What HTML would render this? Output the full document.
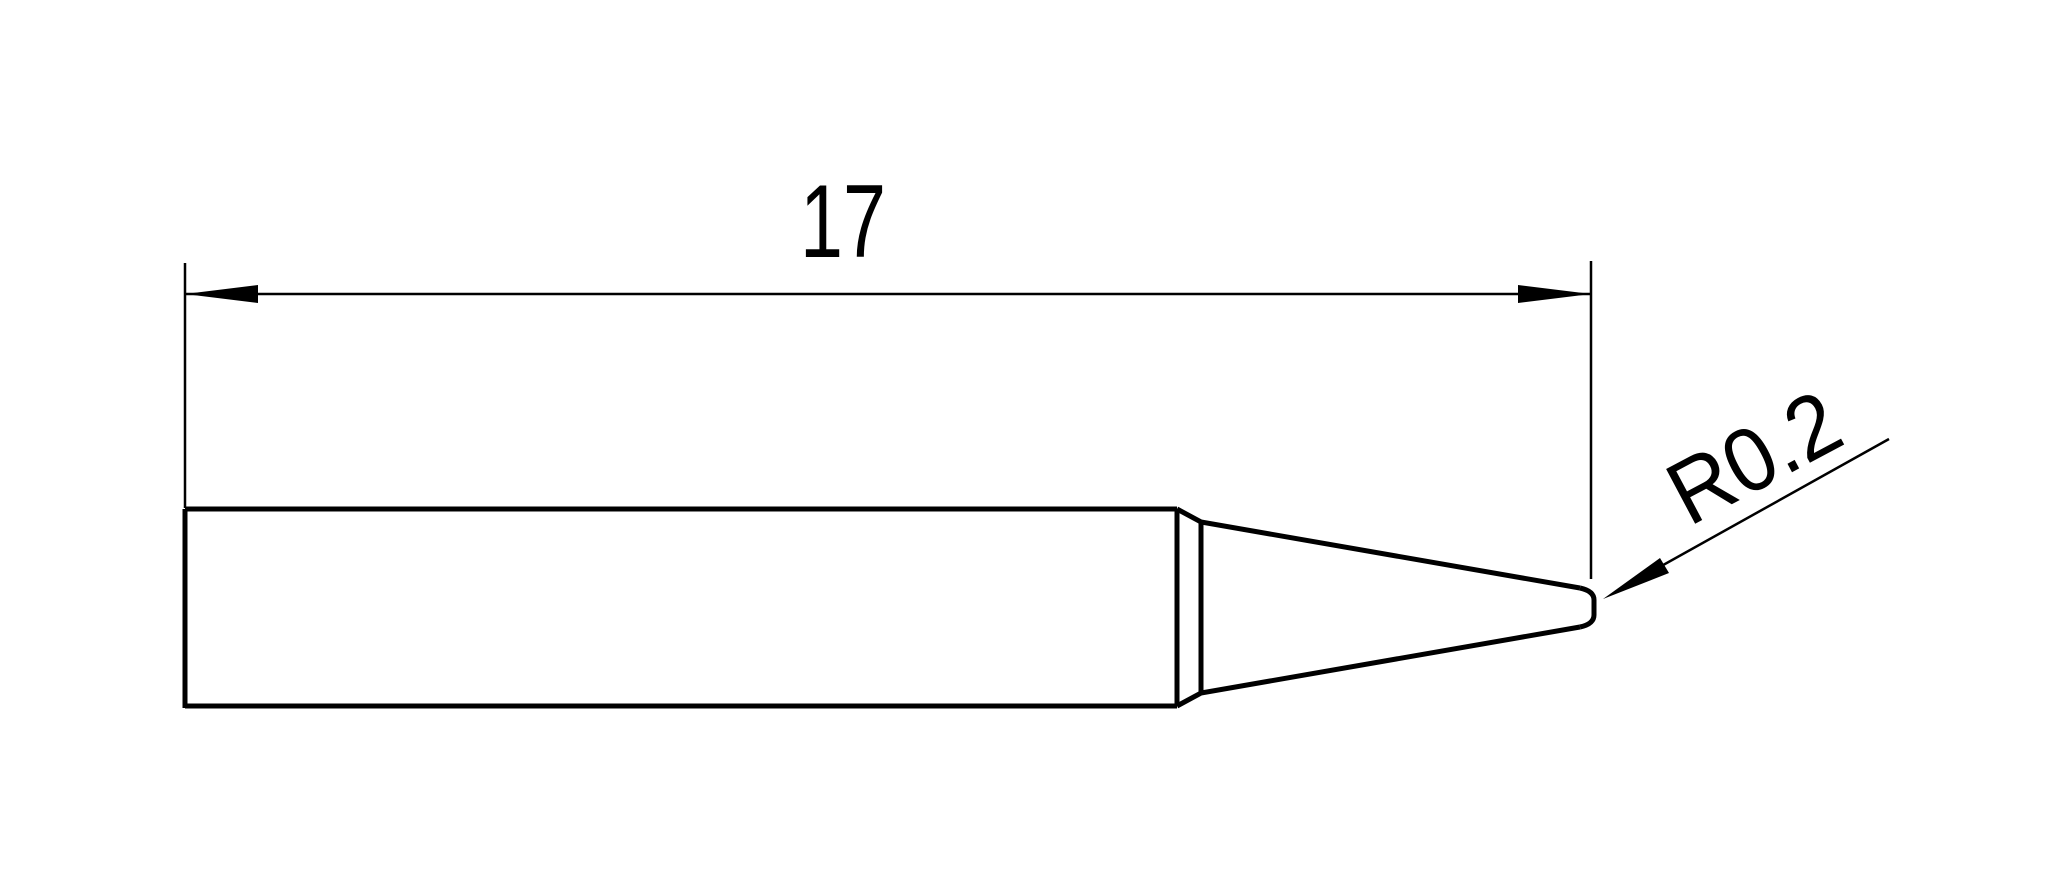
<!DOCTYPE html>
<html><head><meta charset="utf-8"><style>html,body{margin:0;padding:0;background:#fff;width:2050px;height:884px;overflow:hidden}</style></head>
<body>
<svg width="2050" height="884" viewBox="0 0 2050 884" xmlns="http://www.w3.org/2000/svg">
<g stroke="#000" fill="none" stroke-width="2.5">
<line x1="185" y1="263" x2="185" y2="508"/>
<line x1="1591" y1="261" x2="1591" y2="579"/>
<line x1="185" y1="294" x2="1591" y2="294"/>
<line x1="1889" y1="439" x2="1640" y2="578"/>
</g>
<polygon points="185,294 258,285 258,303" fill="#000"/>
<polygon points="1591,294 1518,285 1518,303" fill="#000"/>
<polygon points="1603,599 1660,558 1669,573" fill="#000"/>
<g stroke="#000" fill="none" stroke-width="5">
<line x1="185" y1="509" x2="1177" y2="509"/>
<line x1="185" y1="706" x2="1177" y2="706"/>
<line x1="185" y1="509" x2="185" y2="708"/>
<line x1="1177" y1="509" x2="1177" y2="706"/>
<line x1="1201" y1="522" x2="1201" y2="693"/>
<polyline points="1177,509 1201,522 1580,588"/>
<polyline points="1177,706 1201,693 1580,627"/>
<path d="M1580,588 Q1594,591 1594,600 L1594,615 Q1594,624 1580,627"/>
</g>
<text x="800" y="257" font-family="Liberation Sans, sans-serif" font-size="104" textLength="86" lengthAdjust="spacingAndGlyphs" fill="#000">17</text>
<text transform="translate(1689,527) rotate(-28)" font-family="Liberation Sans, sans-serif" font-size="90" textLength="180" lengthAdjust="spacingAndGlyphs" fill="#000">R0.2</text>
</svg>
</body></html>
